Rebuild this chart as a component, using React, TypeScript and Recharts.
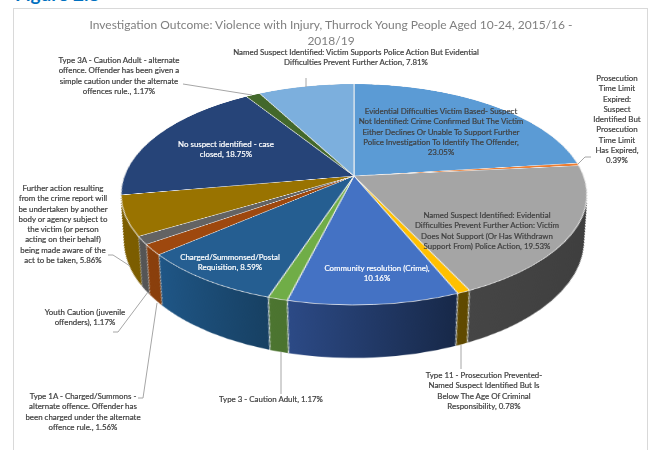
import React from 'react';
import { PieChart, Pie, Cell } from 'recharts';

const categories = [
  'Evidential Difficulties Victim Based',
  'Prosecution Time Limit Expired',
  'Named Suspect Identified: Victim Does Not Support',
  'Type 11 - Prosecution Prevented',
  'Community resolution (Crime)',
  'Type 3 - Caution Adult',
  'Charged/Summonsed/Postal Requisition',
  'Type 1A - Charged/Summons',
  'Youth Caution',
  'Further action',
  'No suspect identified',
  'Type 3A - Caution Adult',
  'Named Suspect Identified: Victim Supports',
];
const values = [23.05, 0.39, 19.53, 0.78, 10.16, 1.17, 8.59, 1.56, 1.17, 5.86, 18.75, 1.17, 7.81];
const topColors = ['#5B9BD5', '#ED7D31', '#A5A5A5', '#FFC000', '#4472C4', '#70AD47', '#255E91', '#9E480E', '#636363', '#997300', '#264478', '#43682B', '#7CAFDD'];
const wallLight = ['#3d6d99', '#a55720', '#4a4a4a', '#6b5200', '#2c4a86', '#4c7530', '#1f5686', '#8a3f0c', '#555555', '#7d5e00', '#1b3055', '#2f491e', '#577ba0'];
const wallDark = ['#335c80', '#8a491a', '#3e3e3e', '#5f4900', '#172848', '#466c2c', '#113049', '#7d390b', '#4a4a4a', '#6e5300', '#16284a', '#28401a', '#496885'];

const chartData = categories.map((name, i) => ({ name, value: values[i] }));

// thin slice at the end of each category, only drawn as a tick on the rim of the wall
const SEAM = 0.07;
const seamData = values.flatMap((v) => [{ value: v - SEAM }, { value: SEAM }]);
const seamTurn = (SEAM / 2) * 3.6;

// one flat pie, tilted with a perspective matrix
const R = 230;
const CX = 260;
const CY = 250;
const x0 = 354;
const y0 = 176;
const a = 229.7;
const b = 107.4;
const k = 0.1674;
const tilt = `matrix3d(${a / R},0,0,0,${(-x0 * k) / R},${(b - y0 * k) / R},0,${-k / R},0,0,1,0,${x0 - (a * CX) / R + (x0 * k * CY) / R},${y0 - ((b - y0 * k) * CY) / R},0,${1 + (k * CY) / R})`;

const LEVELS = 62;
const levels = Array.from({ length: LEVELS }, (_, i) => LEVELS - i);

const labels = [
  { x: 356, y: 52, color: '#404040', lines: ['Named Suspect Identified: Victim Supports Police Action But Evidential', 'Difficulties Prevent Further Action, 7.81%'] },
  { x: 119, y: 60, color: '#404040', lines: ['Type 3A - Caution Adult - alternate', 'offence. Offender has been given a', 'simple caution under the alternate', 'offences rule., 1.17%'] },
  { x: 617, y: 78, color: '#404040', lines: ['Prosecution', 'Time Limit', 'Expired:', 'Suspect', 'Identified But', 'Prosecution', 'Time Limit', 'Has Expired,', '0.39%'] },
  { x: 441, y: 111, color: '#404040', lines: ['Evidential Difficulties Victim Based- Suspect', 'Not Identified: Crime Confirmed But The Victim', 'Either Declines Or Unable To Support Further', 'Police Investigation To Identify The Offender,', '23.05%'] },
  { x: 487, y: 215, color: '#404040', lines: ['Named Suspect Identified: Evidential', 'Difficulties Prevent Further Action: Victim', 'Does Not Support (Or Has Withdrawn', 'Support From) Police Action, 19.53%'] },
  { x: 377, y: 268, color: '#ffffff', lines: ['Community resolution (Crime),', '10.16%'] },
  { x: 230, y: 257, color: '#ffffff', lines: ['Charged/Summonsed/Postal', 'Requisition, 8.59%'] },
  { x: 226, y: 144, color: '#ffffff', lines: ['No suspect identified - case', 'closed, 18.75%'] },
  { x: 63, y: 188, color: '#404040', lines: ['Further action resulting', 'from the crime report will', 'be undertaken by another', 'body or agency subject to', 'the victim (or person', 'acting on their behalf)', 'being made aware of the', 'act to be taken, 5.86%'] },
  { x: 85, y: 312, color: '#404040', lines: ['Youth Caution (juvenile', 'offenders), 1.17%'] },
  { x: 83, y: 396, color: '#404040', lines: ['Type 1A - Charged/Summons -', 'alternate offence. Offender has', 'been charged under the alternate', 'offence rule., 1.56%'] },
  { x: 271, y: 399, color: '#404040', lines: ['Type 3 - Caution Adult, 1.17%'] },
  { x: 484, y: 375, color: '#404040', lines: ['Type 11 - Prosecution Prevented-', 'Named Suspect Identified But Is', 'Below The Age Of Criminal', 'Responsibility, 0.78%'] },
];

const leaders = [
  '306,78 306,87',
  '183,84 252,95',
  '578,164 585,157 591,157',
  '108,255 113,255 130,266',
  '113,332 118,332 148,292',
  '138,398 143,398 157,303',
  '281,352 281,394',
  '461,345 461,369',
];

export default function App() {
  return (
    <div style={{ position: 'absolute', left: 0, top: 0, width: 650, height: 450, overflow: 'hidden', background: '#fff', fontFamily: 'Lato' }}>
      <div style={{ position: 'absolute', left: 15, top: -18, fontSize: 19, fontWeight: 700, color: '#0070C0', fontFamily: 'Lato' }}>Figure 2.8</div>
      <div style={{ position: 'absolute', left: 13, top: 8, width: 633, height: 460, border: '1px solid #d9d9d9' }} />
      <div style={{ position: 'absolute', left: 0, top: 0, transformOrigin: '0 0', transform: tilt }}>
        <PieChart width={520} height={580} margin={{ top: 0, right: 0, bottom: 0, left: 0 }}>
          <defs>
            {topColors.map((_, i) => (
              <linearGradient key={i} id={`wall${i}`} x1="0" y1="0" x2="1" y2="0">
                <stop offset="0%" stopColor={wallLight[i]} />
                <stop offset="100%" stopColor={wallDark[i]} />
              </linearGradient>
            ))}
          </defs>
          {levels.flatMap((n) => {
            const t = n / LEVELS;
            const cy = CY + 0.4 * R * t;
            const r = R * (1 - 0.08 * t);
            return [
              <Pie key={`wall${n}`} data={chartData} dataKey="value" cx={CX} cy={cy} outerRadius={r} startAngle={90} endAngle={-270} stroke="none" isAnimationActive={false}>
                {chartData.map((_, i) => (
                  <Cell key={i} fill={`url(#wall${i})`} />
                ))}
              </Pie>,
              <Pie key={`seam${n}`} data={seamData} dataKey="value" cx={CX} cy={cy} innerRadius={r - 1.5} outerRadius={r} startAngle={90 - seamTurn} endAngle={-270 - seamTurn} stroke="none" isAnimationActive={false}>
                {seamData.map((_, i) => (
                  <Cell key={i} fill={i % 2 ? '#e4e8ea' : 'transparent'} />
                ))}
              </Pie>,
            ];
          })}
          <Pie data={chartData} dataKey="value" cx={CX} cy={CY} outerRadius={R} startAngle={90} endAngle={-270} stroke="#f2f2f2" strokeWidth={1} isAnimationActive={false}>
            {chartData.map((_, i) => (
              <Cell key={i} fill={topColors[i]} />
            ))}
          </Pie>
        </PieChart>
      </div>
      <svg width={650} height={450} style={{ position: 'absolute', left: 0, top: 0 }}>
        {leaders.map((points) => (
          <polyline key={points} points={points} fill="none" stroke="#a6a6a6" strokeWidth={1} />
        ))}
        <text x={331} y={28.5} textAnchor="middle" fontSize={12} fill="#7f7f7f">Investigation Outcome: Violence with Injury, Thurrock Young People Aged 10-24, 2015/16 -</text>
        <text x={331} y={44.5} textAnchor="middle" fontSize={12} fill="#7f7f7f">2018/19</text>
        {labels.map((l) => (
          <text key={l.lines[0]} textAnchor="middle" fontSize={7.9} fill={l.color} stroke={l.color} strokeWidth={0.2}>
            {l.lines.map((line, j) => (
              <tspan key={j} x={l.x} y={l.y + 3 + j * 10.25}>{line}</tspan>
            ))}
          </text>
        ))}
      </svg>
    </div>
  );
}
